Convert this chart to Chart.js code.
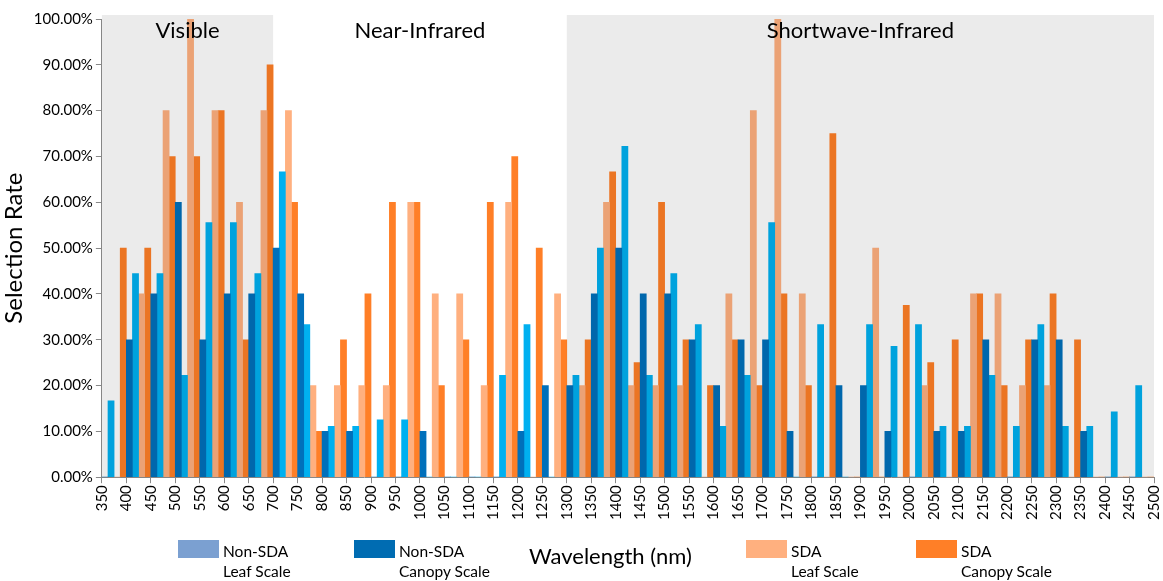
<!DOCTYPE html>
<html lang="en">
<head>
<meta charset="UTF-8">
<title>Selection Rate by Wavelength</title>
<style>
  body { margin: 0; background: #fff; font-family: Lato, "Open Sans", sans-serif; }
  #wrap { position: relative; width: 1163px; height: 581px; }
  .key { position: absolute; top: 540px; font-size: 15.5px; line-height: 20px; color: #000; }
  .key span { position: absolute; left: 0; top: 0; width: 41px; height: 18px; }
  .key div { margin-left: 45px; margin-top: 1px; white-space: nowrap; }
  #xTitle { position: absolute; left: 529px; top: 542px; font-size: 22px; color: #000; white-space: nowrap; }
</style>
</head>
<body>
<div id="wrap">
  <canvas id="rateChart" width="1163" height="581"></canvas>
  <div class="key" style="left:178px"><span style="background:#7ba0d1"></span><div>Non-SDA<br>Leaf Scale</div></div>
  <div class="key" style="left:354px"><span style="background:#006cb2"></span><div>Non-SDA<br>Canopy Scale</div></div>
  <div id="xTitle">Wavelength (nm)</div>
  <div class="key" style="left:746px"><span style="background:#ffb07f"></span><div>SDA<br>Leaf Scale</div></div>
  <div class="key" style="left:916px"><span style="background:#ff7f27"></span><div>SDA<br>Canopy Scale</div></div>
</div>

<script src="https://cdn.jsdelivr.net/npm/chart.js@4.4.1/dist/chart.umd.min.js"></script>
<script>
// 50 nm bins, labelled by their start wavelength
const bins = ['350','400','450','500','550','600','650','700','750','800','850','900','950','1000','1050',
  '1100','1150','1200','1250','1300','1350','1400','1450','1500','1550','1600','1650','1700','1750','1800',
  '1850','1900','1950','2000','2050','2100','2150','2200','2250','2300','2350','2400','2450'];

// tick labels on the wavelength axis (bin edges)
const edgeTicks = [350,400,450,500,550,600,650,700,750,800,850,900,950,1000,1050,1100,1150,1200,1250,1300,
  1350,1400,1450,1500,1550,1600,1650,1700,1750,1800,1850,1900,1950,2000,2050,2100,2150,2200,2250,2300,
  2350,2400,2450,2500];

const yTicks = [0,10,20,30,40,50,60,70,80,90,100];

// selection rate in %
const nonSdaCanopy = [0,30,40,60,30,40,40,50,40,10,10,0,0,10,0,0,0,10,20,20,40,50,40,40,30,20,30,30,10,0,
  20,20,10,0,10,10,30,0,30,30,10,0,0];
const nonSdaLeaf = [16.67,44.44,44.44,22.22,55.56,55.56,44.44,66.67,33.33,11.11,11.11,12.5,12.5,0,0,0,22.22,33.33,0,22.22,
  50,72.22,22.22,44.44,33.33,11.11,22.22,55.56,0,33.33,0,33.33,28.57,33.33,11.11,11.11,22.22,11.11,33.33,11.11,
  11.11,14.29,20];
const sdaLeaf = [0,40,80,100,80,60,80,80,20,20,20,20,60,40,40,20,60,0,40,20,60,20,20,20,0,40,80,100,40,0,
  0,50,0,20,0,40,40,20,20,0,0,0,0];
const sdaCanopy = [50,50,70,70,80,30,90,60,10,30,40,60,60,20,30,60,70,50,30,30,66.67,25,60,30,20,30,20,40,20,75,
  0,0,37.5,25,30,40,20,30,40,30,0,0,0];

const regionNames = ['Visible', 'Near-Infrared', 'Shortwave-Infrared'];
const regionStart = [350, 700, 1300];
const regionEnd = [700, 1300, 2500];
const regionShaded = [true, false, true];

const bands = {
  id: 'bands',
  afterDatasetsDraw(chart) {
    const ctx = chart.ctx, xs = chart.scales.x, area = chart.chartArea;
    ctx.save();
    regionNames.forEach((name, i) => {
      const x0 = xs.getPixelForValue(regionStart[i]);
      const x1 = xs.getPixelForValue(regionEnd[i]);
      if (regionShaded[i]) {
        ctx.fillStyle = 'rgba(0,0,0,0.08)';
        ctx.fillRect(x0, area.top - 4, x1 - x0, area.bottom - area.top + 4);
      }
      ctx.fillStyle = '#000';
      ctx.font = '22px Lato';
      ctx.textAlign = 'center';
      ctx.textBaseline = 'middle';
      ctx.fillText(name, (x0 + x1) / 2, area.top + 12);
    });
    ctx.restore();
  }
};

Chart.defaults.font.family = 'Lato';
Chart.defaults.color = '#000';

new Chart(document.getElementById('rateChart'), {
  type: 'bar',
  data: {
    labels: bins,
    datasets: [
      { label: 'Non-SDA Canopy Scale', data: nonSdaCanopy, backgroundColor: '#0070bb', xAxisID: 'cat' },
      { label: 'Non-SDA Leaf Scale', data: nonSdaLeaf, backgroundColor: '#00b0f0', xAxisID: 'cat' },
      { label: 'SDA Leaf Scale', data: sdaLeaf, backgroundColor: '#ffb07f', xAxisID: 'cat' },
      { label: 'SDA Canopy Scale', data: sdaCanopy, backgroundColor: '#ff7f27', xAxisID: 'cat' }
    ]
  },
  options: {
    responsive: false,
    animation: false,
    categoryPercentage: 1.0,
    barPercentage: 1.0,
    layout: { padding: { top: 19, right: 9, bottom: 59, left: 0 } },
    plugins: { legend: { display: false }, tooltip: { enabled: false } },
    scales: {
      cat: {
        type: 'category',
        axis: 'x',
        position: 'bottom',
        display: false,
        offset: true
      },
      x: {
        type: 'linear',
        axis: 'x',
        position: 'bottom',
        offset: false,
        min: 350,
        max: 2500,
        afterBuildTicks(axis) { axis.ticks = edgeTicks.map(v => ({ value: v })); },
        afterFit(axis) { axis.paddingLeft = 0; axis.paddingRight = 0; },
        ticks: { autoSkip: false, minRotation: 90, maxRotation: 90, font: { size: 15 }, padding: 2,
                 callback: v => String(v) },
        grid: { drawOnChartArea: false, offset: false, color: '#888', tickLength: 6 },
        border: { color: '#888' }
      },
      y: {
        min: 0,
        max: 100,
        afterBuildTicks(axis) { axis.ticks = yTicks.map(v => ({ value: v })); },
        ticks: { font: { size: 15 }, padding: 3, callback: v => v.toFixed(2) + '%' },
        grid: { drawOnChartArea: false, color: '#888', tickLength: 6 },
        border: { color: '#888' },
        title: { display: true, text: 'Selection Rate', font: { size: 24 }, padding: { top: 0, bottom: 2 } }
      }
    }
  },
  plugins: [bands]
});
</script>
</body>
</html>
